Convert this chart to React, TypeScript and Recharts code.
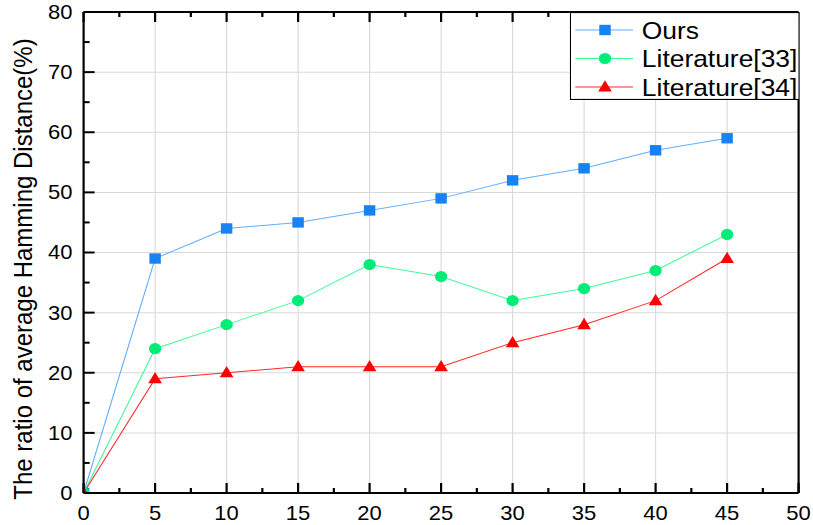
import React from 'react';
import { LineChart, Line, XAxis, YAxis, ReferenceLine, Label, Legend } from 'recharts';

const xValues = [0, 5, 10, 15, 20, 25, 30, 35, 40, 45];
const oursValues = [0, 39, 44, 45, 47, 49, 52, 54, 57, 59];
const lit33Values = [0, 24, 28, 32, 38, 36, 32, 34, 37, 43];
const lit34Values = [0, 19, 20, 21, 21, 21, 25, 28, 32, 39];

const xMajorTicks = [0, 5, 10, 15, 20, 25, 30, 35, 40, 45, 50];
const xAllTicks = [0, 2.5, 5, 7.5, 10, 12.5, 15, 17.5, 20, 22.5, 25, 27.5, 30, 32.5, 35, 37.5, 40, 42.5, 45, 47.5, 50];
const yMajorTicks = [0, 10, 20, 30, 40, 50, 60, 70, 80];
const yAllTicks = [0, 5, 10, 15, 20, 25, 30, 35, 40, 45, 50, 55, 60, 65, 70, 75, 80];

const yAxisTitle = 'The ratio of average Hamming Distance(%)';

const FONT = '"Liberation Sans", Arial, sans-serif';

type Shape = 'square' | 'circle' | 'triangle';
const series: { key: string; name: string; line: string; fill: string; shape: Shape }[] = [
  { key: 'ours', name: 'Ours', line: '#62aeff', fill: '#1783f2', shape: 'square' },
  { key: 'lit33', name: 'Literature[33]', line: '#3dfc9a', fill: '#00ec78', shape: 'circle' },
  { key: 'lit34', name: 'Literature[34]', line: '#ff2a2a', fill: '#ff0000', shape: 'triangle' },
];

const data = xValues.map((x, i) => ({
  x,
  ours: oursValues[i],
  lit33: lit33Values[i],
  lit34: lit34Values[i],
}));

const Marker = ({ shape, cx, cy, fill }: { shape: Shape; cx: number; cy: number; fill: string }) => {
  if (shape === 'square') return <rect x={cx - 5.2} y={cy - 5.2} width={10.4} height={10.4} fill={fill} />;
  if (shape === 'circle') return <circle cx={cx} cy={cy} r={5.6} fill={fill} />;
  return <polygon points={`${cx},${cy - 6.8} ${cx - 6.2},${cy + 4.6} ${cx + 6.2},${cy + 4.6}`} fill={fill} />;
};

const isMajorX = (v: number) => Math.abs(v % 5) < 1e-6;
const isMajorY = (v: number) => Math.abs(v % 10) < 1e-6;

const BottomTick = (p: any) => {
  const { x, y, payload } = p;
  const major = isMajorX(payload.value);
  return (
    <g>
      <line x1={x} x2={x} y1={y} y2={y - (major ? 10 : 5)} stroke="#000" strokeWidth={2} />
      {major && (
        <text x={x} y={y + 27} textAnchor="middle" fontSize={20} fill="#000" fontFamily={FONT}>
          {payload.value}
        </text>
      )}
    </g>
  );
};

const TopTick = (p: any) => {
  const { x, y, payload } = p;
  const major = isMajorX(payload.value);
  return <line x1={x} x2={x} y1={y} y2={y + (major ? 10 : 5)} stroke="#000" strokeWidth={2} />;
};

const LeftTick = (p: any) => {
  const { x, y, payload } = p;
  const major = isMajorY(payload.value);
  return (
    <g>
      <line x1={x} x2={x + (major ? 10 : 5.5)} y1={y} y2={y} stroke="#000" strokeWidth={2} />
      {major && (
        <text x={x - 10} y={y + 7} textAnchor="end" fontSize={20} fill="#000" fontFamily={FONT}>
          {payload.value}
        </text>
      )}
    </g>
  );
};

const RightTick = (p: any) => {
  const { x, y, payload } = p;
  const major = isMajorY(payload.value);
  return <line x1={x} x2={x - (major ? 10 : 5.5)} y1={y} y2={y} stroke="#000" strokeWidth={2} />;
};

const YTitle = () => {
  const cx = 29.5;
  const cy = 269;
  return (
    <text
      x={cx}
      y={cy}
      transform={`rotate(-90, ${cx}, ${cy})`}
      textAnchor="middle"
      fontSize={24}
      fill="#000"
      fontFamily={FONT}
    >
      {yAxisTitle}
    </text>
  );
};

const LegendBox = () => (
  <div style={{ width: 209, height: 88, background: '#fff' }}>
    <svg width={209} height={88} style={{ display: 'block' }}>
      <rect x={0.5} y={0.5} width={208} height={87} fill="#fff" stroke="#000" strokeWidth={1.2} />
      {series.map((s, i) => {
        const cy = 18 + i * 28.5;
        return (
          <g key={s.key}>
            <line x1={5} x2={57.5} y1={cy} y2={cy} stroke={s.line} strokeWidth={1} />
            <Marker shape={s.shape} cx={32} cy={cy} fill={s.fill} />
            <text x={65.5} y={cy + 8.6} fontSize={24} fill="#000" fontFamily={FONT}>
              {s.name}
            </text>
          </g>
        );
      })}
    </svg>
  </div>
);

export default function App() {
  return (
    <div style={{ position: 'absolute', left: 0, top: 0, width: 813, height: 525, overflow: 'hidden', background: '#fff' }}>
      <div style={{ transform: 'scaleX(1.1)', transformOrigin: '0 0', width: 739, height: 525 }}>
        <LineChart width={739} height={525} data={data} margin={{ top: 11, right: 12, bottom: 31, left: 75 }}>
          {xMajorTicks.slice(1, -1).map((v) => (
            <ReferenceLine key={`gx${v}`} x={v} stroke="#d9d9d9" strokeWidth={1} />
          ))}
          {yMajorTicks.slice(1, -1).map((v) => (
            <ReferenceLine key={`gy${v}`} y={v} stroke="#d9d9d9" strokeWidth={1} />
          ))}
          <XAxis
            dataKey="x"
            type="number"
            domain={[0, 50]}
            ticks={xAllTicks}
            interval={0}
            height={1}
            tickSize={0}
            tickMargin={0}
            tickLine={false}
            axisLine={{ stroke: '#000', strokeWidth: 2 }}
            tick={BottomTick}
            allowDataOverflow
          />
          <XAxis
            xAxisId="top"
            orientation="top"
            dataKey="x"
            type="number"
            domain={[0, 50]}
            ticks={xAllTicks}
            interval={0}
            height={1}
            tickSize={0}
            tickMargin={0}
            tickLine={false}
            axisLine={{ stroke: '#000', strokeWidth: 2 }}
            tick={TopTick}
          />
          <YAxis
            type="number"
            domain={[0, 80]}
            ticks={yAllTicks}
            interval={0}
            width={1}
            tickSize={0}
            tickMargin={0}
            tickLine={false}
            axisLine={{ stroke: '#000', strokeWidth: 2 }}
            tick={LeftTick}
            allowDataOverflow
          >
            <Label content={YTitle} />
          </YAxis>
          <YAxis
            yAxisId="right"
            orientation="right"
            type="number"
            domain={[0, 80]}
            ticks={yAllTicks}
            interval={0}
            width={1}
            tickSize={0}
            tickMargin={0}
            tickLine={false}
            axisLine={{ stroke: '#000', strokeWidth: 2 }}
            tick={RightTick}
          />
          {series.map((s) => (
            <Line
              key={s.key}
              dataKey={s.key}
              name={s.name}
              stroke={s.line}
              strokeWidth={1}
              isAnimationActive={false}
              dot={(props: any) => (
                <Marker key={`${s.key}-${props.index}`} shape={s.shape} cx={props.cx} cy={props.cy} fill={s.fill} />
              )}
              activeDot={false}
            />
          ))}
          <Legend
            layout="vertical"
            align="center"
            verticalAlign="middle"
            wrapperStyle={{ position: 'absolute', left: 518, top: 12, width: 209, height: 88 }}
            content={() => <LegendBox />}
          />
        </LineChart>
      </div>
    </div>
  );
}
